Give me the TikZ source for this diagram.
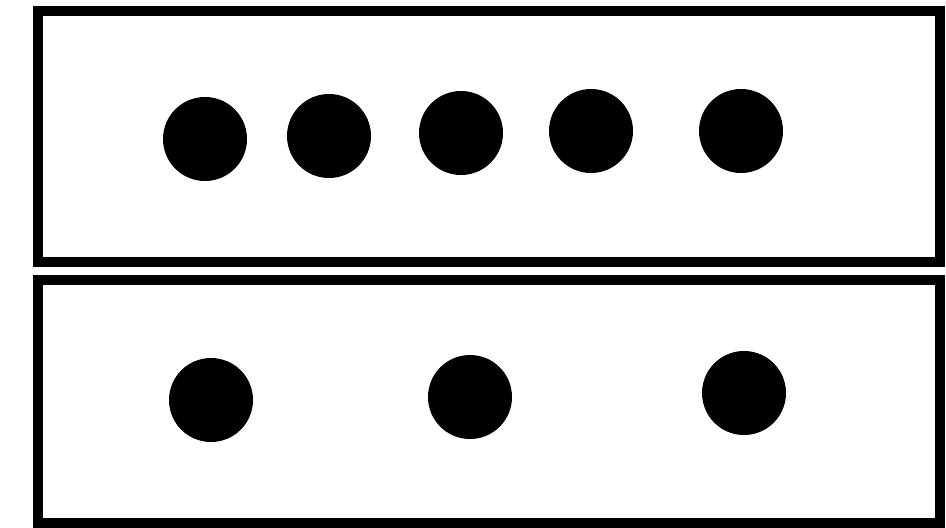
\documentclass[tikz,border=0pt]{standalone}
\begin{document}
\begin{tikzpicture}[x=0.75pt,y=-0.75pt,
  panel/.style={draw=black,line width=7.5pt,fill=none},
  dot/.style={circle,fill=black,inner sep=0pt,minimum size=63pt}]
\useasboundingbox (0,0) rectangle (946,528);
\draw[panel] (38,11) rectangle (940,262);
\draw[panel] (38,280) rectangle (940,523);
\node[dot] (a1) at (205,139) {};
\node[dot] (a2) at (329,136) {};
\node[dot] (a3) at (461,133) {};
\node[dot] (a4) at (591,131) {};
\node[dot] (a5) at (741,131) {};
\node[dot] (b1) at (211,400) {};
\node[dot] (b2) at (470,397) {};
\node[dot] (b3) at (744,393) {};
\end{tikzpicture}
\end{document}
